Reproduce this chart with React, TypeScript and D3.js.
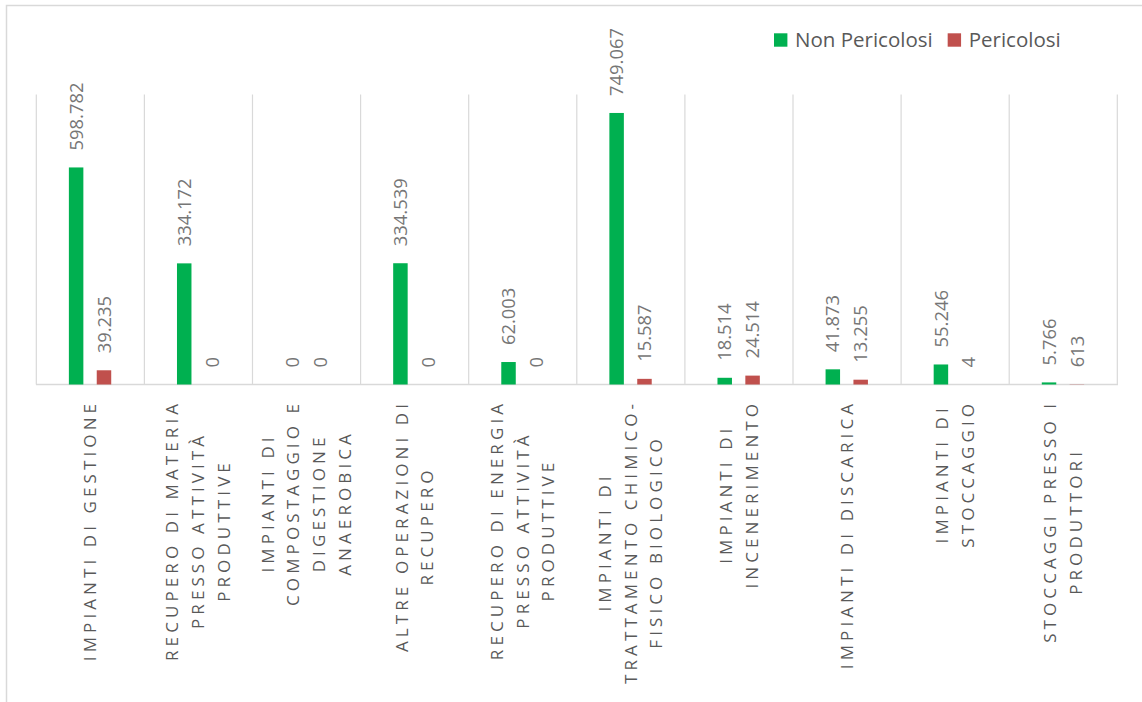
import React, { useRef, useEffect } from "react";
import * as d3 from "d3";

// ---- data ----
const categoryLines: string[][] = [
  ["IMPIANTI DI GESTIONE"],
  ["RECUPERO DI MATERIA", "PRESSO ATTIVITÀ", "PRODUTTIVE"],
  ["IMPIANTI DI", "COMPOSTAGGIO E", "DIGESTIONE", "ANAEROBICA"],
  ["ALTRE OPERAZIONI DI", "RECUPERO"],
  ["RECUPERO DI ENERGIA", "PRESSO ATTIVITÀ", "PRODUTTIVE"],
  ["IMPIANTI DI", "TRATTAMENTO CHIMICO-", "FISICO BIOLOGICO"],
  ["IMPIANTI DI", "INCENERIMENTO"],
  ["IMPIANTI DI DISCARICA"],
  ["IMPIANTI DI", "STOCCAGGIO"],
  ["STOCCAGGI PRESSO I", "PRODUTTORI"],
];
const seriesNames = ["Non Pericolosi", "Pericolosi"];
const nonPericolosi = [598782, 334172, 0, 334539, 62003, 749067, 18514, 41873, 55246, 5766];
const pericolosi = [39235, 0, 0, 0, 0, 15587, 24514, 13255, 4, 613];
const seriesValues = [nonPericolosi, pericolosi];
const seriesColors = ["#00B050", "#C0504D"];
const yMax = 800000;

const W = 1142;
const H = 702;
const FONT = "'Open Sans', 'Noto Sans', sans-serif";

export default function App() {
  const ref = useRef<SVGSVGElement>(null);

  useEffect(() => {
    const svg = d3.select(ref.current);
    svg.selectAll("*").remove();

    const plotLeft = 36;
    const plotRight = 1117;
    const plotTop = 94.5;
    const plotBottom = 384.5;

    const idx = categoryLines.map((_, i) => i);
    const x0 = d3.scaleBand<number>().domain(idx).range([plotLeft, plotRight]).padding(0);
    const x1 = d3
      .scaleBand<number>()
      .domain([0, 1])
      .range([0, x0.bandwidth()])
      .paddingInner(0.48)
      .paddingOuter(1.18);
    const y = d3.scaleLinear().domain([0, yMax]).range([plotBottom, plotTop]);
    const fmt = d3
      .formatLocale({ decimal: ",", thousands: ".", grouping: [3], currency: ["€", ""] })
      .format(",d");

    // outer border
    svg
      .append("rect")
      .attr("x", 6.5)
      .attr("y", 5.5)
      .attr("width", 1145)
      .attr("height", 705)
      .attr("fill", "#ffffff")
      .attr("stroke", "#d9d9d9")
      .attr("stroke-width", 1.5);

    // vertical gridlines at category boundaries
    const bounds = [...idx.map((i) => x0(i)!), plotRight];
    svg
      .append("g")
      .selectAll("line")
      .data(bounds)
      .join("line")
      .attr("x1", (d) => d + 0.3)
      .attr("x2", (d) => d + 0.3)
      .attr("y1", plotTop)
      .attr("y2", plotBottom)
      .attr("stroke", "#d9d9d9")
      .attr("stroke-width", 1.2);

    // axis line
    svg
      .append("line")
      .attr("x1", plotLeft)
      .attr("x2", plotRight + 1)
      .attr("y1", plotBottom)
      .attr("y2", plotBottom)
      .attr("stroke", "#d9d9d9")
      .attr("stroke-width", 1.4);

    // bars + labels
    seriesValues.forEach((vals, s) => {
      const g = svg.append("g");
      g.selectAll("rect")
        .data(vals)
        .join("rect")
        .attr("x", (_, i) => x0(i)! + x1(s)!)
        .attr("width", x1.bandwidth())
        .attr("y", (d) => y(d))
        .attr("height", (d) => plotBottom - y(d))
        .attr("fill", seriesColors[s]);

      g.selectAll("text")
        .data(vals)
        .join("text")
        .attr(
          "transform",
          (d, i) => `translate(${x0(i)! + x1(s)! + x1.bandwidth() / 2},${y(d) - 17}) rotate(-90)`
        )
        .attr("dy", "0.36em")
        .attr("text-anchor", "start")
        .attr("font-family", FONT)
        .attr("font-size", 18.4)
        .attr("fill", "#767676")
        .text((d) => fmt(d));
    });

    // category labels
    const lineGap = 25.8;
    const labelTop = 404;
    const letterSpacing = 4.1;
    const catG = svg.append("g");
    categoryLines.forEach((lines, i) => {
      const cx = x0(i)! + x0.bandwidth() / 2;
      const texts = lines.map((ln, k) =>
        catG
          .append("text")
          .attr("text-anchor", "middle")
          .attr("dy", "0.36em")
          .attr("font-family", FONT)
          .attr("font-size", 17)
          .attr("letter-spacing", letterSpacing)
          .attr("fill", "#595959")
          .text(ln)
      );
      const lens = texts.map((t) => (t.node() as SVGTextElement).getComputedTextLength() - letterSpacing);
      const maxLen = d3.max(lens) || 0;
      const cy = labelTop + maxLen / 2;
      texts.forEach((t, k) => {
        const lx = cx + (k - (lines.length - 1) / 2) * lineGap;
        t.attr("transform", `translate(${lx},${cy - letterSpacing / 2}) rotate(-90)`);
      });
    });

    // legend
    const legG = svg.append("g");
    let lx = 774;
    seriesNames.forEach((name, s) => {
      legG
        .append("rect")
        .attr("x", lx)
        .attr("y", 33.3)
        .attr("width", 13.4)
        .attr("height", 13.4)
        .attr("fill", seriesColors[s]);
      const t = legG
        .append("text")
        .attr("x", lx + 21)
        .attr("y", 46.7)
        .attr("font-family", FONT)
        .attr("font-size", 20.5)
        .attr("fill", "#595959")
        .text(name);
      const w = (t.node() as SVGTextElement).getComputedTextLength();
      lx = lx + 21 + w + 15;
    });
  }, []);

  return (
    <svg
      ref={ref}
      width={W}
      height={H}
      style={{ position: "absolute", left: 0, top: 0, background: "#fff" }}
    />
  );
}
